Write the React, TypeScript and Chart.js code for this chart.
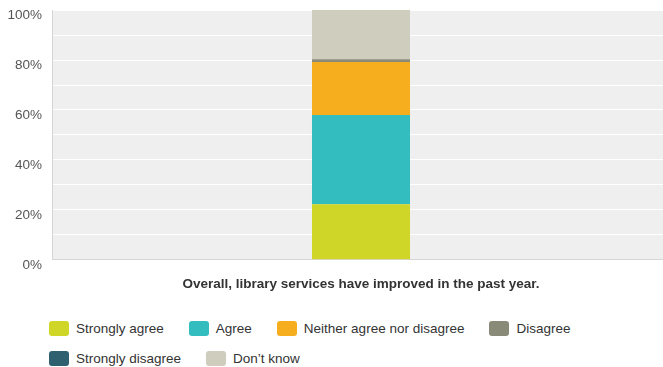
import React, { useEffect, useRef } from "react";
import { Chart, registerables } from "chart.js";

Chart.register(...registerables);

const categories = ["Overall, library services have improved in the past year."];
const seriesNames = [
  "Strongly agree",
  "Agree",
  "Neither agree nor disagree",
  "Disagree",
  "Strongly disagree",
  "Don\u2019t know",
];
const seriesValues = [[22.2], [35.8], [21.2], [1.1], [0], [19.7]];
const seriesColors = ["#cfd628", "#33bdbe", "#f7ae1e", "#8a8a78", "#2e6070", "#cfcdbd"];
const yTickValues = [0, 20, 40, 60, 80, 100];

const FONT = "'Liberation Sans', Arial, sans-serif";

const bgPlugin = {
  id: "plotBg",
  beforeDraw(chart: any) {
    const { ctx, chartArea } = chart;
    if (!chartArea) return;
    ctx.save();
    ctx.fillStyle = "#efefef";
    ctx.fillRect(chartArea.left, chartArea.top, chartArea.right - chartArea.left, chartArea.bottom - chartArea.top);
    ctx.restore();
  },
};

export default function App() {
  const ref = useRef<HTMLCanvasElement | null>(null);

  useEffect(() => {
    document.body.style.margin = "0";
    document.body.style.overflow = "hidden";
    if (!ref.current) return;
    const chart = new Chart(ref.current, {
      type: "bar",
      data: {
        labels: categories,
        datasets: seriesNames.map((name, i) => ({
          label: name,
          data: seriesValues[i],
          backgroundColor: seriesColors[i],
          borderWidth: 0,
          barPercentage: 0.1586,
          categoryPercentage: 1,
        })),
      },
      options: {
        animation: false,
        responsive: false,
        maintainAspectRatio: false,
        layout: { padding: { left: 8, top: 0, right: 0, bottom: 10 } },
        plugins: {
          legend: { display: false },
          tooltip: { enabled: false },
        },
        scales: {
          x: {
            stacked: true,
            grid: { display: false },
            border: { display: true, color: "#d6d6d6", width: 1 },
            ticks: {
              color: "#333333",
              font: { family: FONT, size: 13.5, weight: "bold" },
              padding: 8,
              maxRotation: 0,
            },
          },
          y: {
            stacked: true,
            min: 0,
            max: 100,
            afterFit: (scale: any) => {
              scale.width = 44;
            },
            border: { display: true, color: "#d6d6d6", width: 1 },
            grid: {
              drawTicks: false,
              color: (c: any) => (c.tick && c.tick.value === 0 ? "rgba(0,0,0,0)" : "#ffffff"),
              lineWidth: 1,
            },
            ticks: {
              stepSize: 10,
              padding: 10,
              labelOffset: 5,
              color: "#555555",
              font: { family: FONT, size: 13.5 },
              callback: (v: any) => (yTickValues.includes(Number(v)) ? `${v}%` : ""),
            },
          },
        },
      },
      plugins: [bgPlugin],
    });
    return () => chart.destroy();
  }, []);

  return (
    <div style={{ position: "relative", width: 663, height: 367, overflow: "hidden", background: "#fff" }}>
      <canvas
        ref={ref}
        width={670}
        height={318}
        style={{ position: "absolute", left: 0, top: -8, width: 670, height: 318, display: "block" }}
      />
      <div
        style={{
          position: "absolute",
          left: 49,
          top: 321,
          width: 560,
          display: "flex",
          flexWrap: "wrap",
          columnGap: 25,
          rowGap: 15,
          fontFamily: FONT,
          fontSize: 13.5,
          color: "#333333",
        }}
      >
        {seriesNames.map((name, i) => (
          <div key={name} style={{ display: "flex", alignItems: "center", height: 15 }}>
            <span
              style={{
                display: "inline-block",
                width: 20,
                height: 15,
                borderRadius: 3,
                background: seriesColors[i],
                marginRight: 7,
              }}
            />
            <span style={{ whiteSpace: "nowrap", lineHeight: "15px" }}>{name}</span>
          </div>
        ))}
      </div>
    </div>
  );
}
